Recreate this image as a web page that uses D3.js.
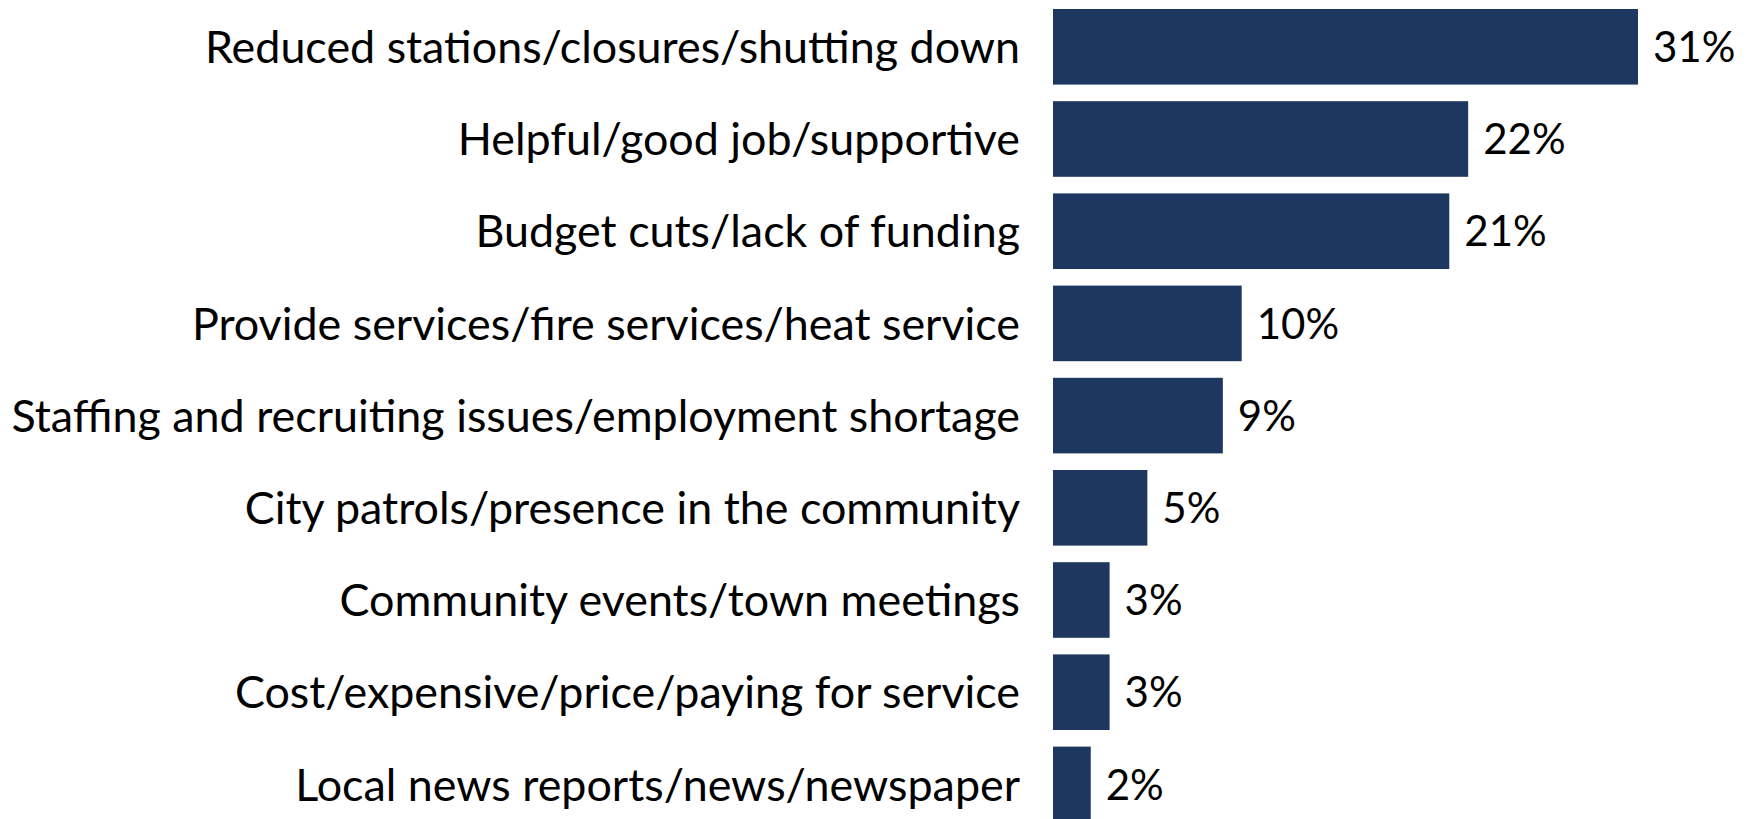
<!DOCTYPE html>
<html>
<head>
<meta charset="utf-8">
<script src="https://cdn.jsdelivr.net/npm/d3@7"></script>
<style>
  body { margin: 0; background: #fff; }
  svg text { font-family: Lato, "Open Sans", sans-serif; fill: #000; }
</style>
</head>
<body>
<svg id="chart" width="1753" height="819"></svg>
<script>
// categories, top to bottom
var categories = [
  "Reduced stations/closures/shutting down",
  "Helpful/good job/supportive",
  "Budget cuts/lack of funding",
  "Provide services/fire services/heat service",
  "Staffing and recruiting issues/employment shortage",
  "City patrols/presence in the community",
  "Community events/town meetings",
  "Cost/expensive/price/paying for service",
  "Local news reports/news/newspaper"
];
var values = [31, 22, 21, 10, 9, 5, 3, 3, 2];

var svg = d3.select("#chart"),
    labelRight = 1020,
    labelSize = 45,
    valueSize = 42;

var x = d3.scaleLinear()
    .domain([0, 31])
    .range([1053, 1638]);

var y = d3.scaleBand()
    .domain(categories)
    .range([0.7, 830.5])
    .paddingInner(0.18)
    .paddingOuter(0.09);

var data = categories.map(function(c, i) { return {cat: c, val: values[i]}; });

svg.append("g")
  .selectAll("rect")
  .data(data)
  .enter().append("rect")
    .attr("x", x(0))
    .attr("y", function(d) { return y(d.cat); })
    .attr("width", function(d) { return x(d.val) - x(0); })
    .attr("height", y.bandwidth())
    .attr("fill", "#1e3761");

// category labels
var labels = svg.append("g")
  .selectAll("text")
  .data(data)
  .enter().append("text")
    .attr("text-anchor", "end")
    .attr("font-size", labelSize)
    .attr("dy", "0.36em")
    .text(function(d) { return d.cat; });

// stretch/squeeze so the longest label spans like the original
var maxW = d3.max(labels.nodes(), function(n) { return n.getComputedTextLength(); });
var k = 1009 / maxW;

labels.attr("transform", function(d) {
  return "translate(" + labelRight + "," + (y(d.cat) + y.bandwidth() / 2) + ") scale(" + k + ",1)";
});

// value labels
svg.append("g")
  .selectAll("text")
  .data(data)
  .enter().append("text")
    .attr("font-size", valueSize)
    .attr("x", function(d) { return x(d.val) + 15; })
    .attr("y", function(d) { return y(d.cat) + y.bandwidth() / 2; })
    .attr("dy", "0.36em")
    .text(function(d) { return d.val + "%"; });
</script>
</body>
</html>
